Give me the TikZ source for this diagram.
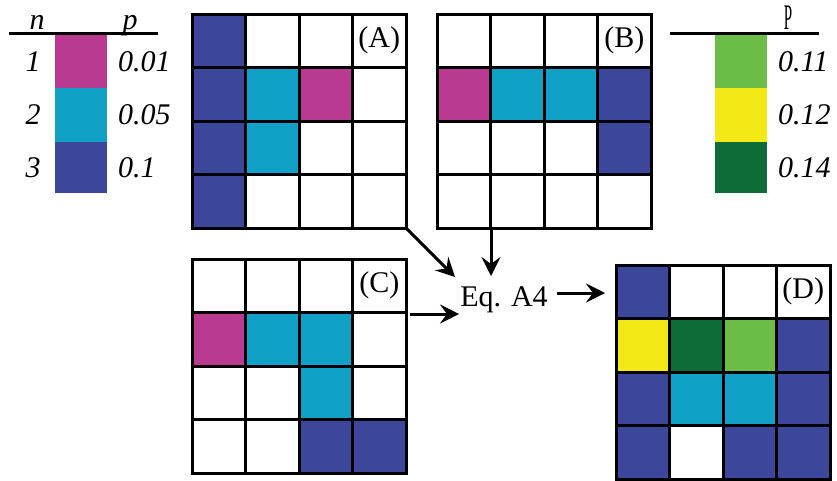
\documentclass[tikz,border=0pt]{standalone}
\usepackage{fontspec}
\setmainfont{Liberation Serif}
\usetikzlibrary{arrows.meta}
\definecolor{cM}{HTML}{BB3A91}
\definecolor{cC}{HTML}{11A0C6}
\definecolor{cB}{HTML}{3C479C}
\definecolor{cL}{HTML}{6CBD45}
\definecolor{cY}{HTML}{F2E916}
\definecolor{cG}{HTML}{0F6B37}
\definecolor{cW}{HTML}{FFFFFF}
\tikzset{
  gridline/.style={line width=3pt},
  gridbox/.style={draw, line width=3pt, minimum width=214pt, minimum height=214pt, inner sep=0pt, outer sep=0pt},
  lbl/.style={font=\fontsize{30}{32}\selectfont, inner sep=0pt},
  leg/.style={font=\fontsize{30}{32}\selectfont\itshape, inner sep=0pt},
  arr/.style={line width=3pt, -{Stealth[length=19pt,width=19pt,inset=7pt]}},
  legline/.style={line width=3pt},
}
\newcommand{\mygrid}[4]{%
  \foreach \col [count=\i from 0] in {#4} {
    \pgfmathtruncatemacro{\cc}{mod(\i,4)}
    \pgfmathtruncatemacro{\rr}{div(\i,4)}
    \fill[\col] (#2+\cc*53.5, #3+\rr*53.5) rectangle ++(53.5,53.5);
  }
  \foreach \k in {1,2,3} {
    \draw[gridline] (#2+\k*53.5,#3) -- ++(0,214);
    \draw[gridline] (#2,#3+\k*53.5) -- ++(214,0);
  }
  \node[gridbox, anchor=north west] (#1) at (#2,#3) {};
  \node[lbl] (#1lbl) at (#2+187.25,#3+26.75) {(#1)};
}
\begin{document}
\begin{tikzpicture}[x=1pt,y=-1pt]
\useasboundingbox (0,0) rectangle (837,480);
% left legend
\draw[legline] (9,33) -- (158,33);
\node[leg, anchor=base] (ln) at (37,29) {n};
\node[leg, anchor=base] (lp) at (130,29) {p};
\fill[cM] (55,35) rectangle (107,88);
\fill[cC] (55,88) rectangle (107,142);
\fill[cB] (55,142) rectangle (107,193);
\node[leg] (n1) at (33,62) {1};
\node[leg] (n2) at (33,115) {2};
\node[leg] (n3) at (33,168) {3};
\node[leg, anchor=west] (p1) at (118,62) {0.01};
\node[leg, anchor=west] (p2) at (118,115) {0.05};
\node[leg, anchor=west] (p3) at (118,168) {0.1};
% right legend
\draw[legline] (670,33) -- (819,33);
\node[inner sep=0pt, anchor=base] (rp) at (788,29) {\fontsize{30}{32}\selectfont\scalebox{0.5}[1.2]{P}};
\fill[cL] (715,35) rectangle (767,88);
\fill[cY] (715,88) rectangle (767,142);
\fill[cG] (715,142) rectangle (767,193);
\node[leg, anchor=west] (q1) at (778,62) {0.11};
\node[leg, anchor=west] (q2) at (778,115) {0.12};
\node[leg, anchor=west] (q3) at (778,168) {0.14};
% grids
\mygrid{A}{192}{14}{cB,cW,cW,cW, cB,cC,cM,cW, cB,cC,cW,cW, cB,cW,cW,cW}
\mygrid{B}{437}{14}{cW,cW,cW,cW, cM,cC,cC,cB, cW,cW,cW,cB, cW,cW,cW,cW}
\mygrid{C}{192}{259}{cW,cW,cW,cW, cM,cC,cC,cW, cW,cW,cC,cW, cW,cW,cB,cB}
\mygrid{D}{616}{265}{cB,cW,cW,cW, cY,cG,cL,cB, cB,cC,cC,cB, cB,cW,cB,cB}
% equation
\node[lbl, anchor=base] (Eq) at (504,306) {Eq. A4};
\coordinate (tA) at (455,277);
\coordinate (sB) at (491,228);
\coordinate (tB) at (491,276);
\coordinate (sC) at (410,314);
\coordinate (tC) at (459,314);
\coordinate (sD) at (557,293);
\coordinate (tD) at (605,293);
\draw[arr] (A.south east) -- (tA);
\draw[arr] (sB) -- (tB);
\draw[arr] (sC) -- (tC);
\draw[arr] (sD) -- (tD);
\end{tikzpicture}
\end{document}
